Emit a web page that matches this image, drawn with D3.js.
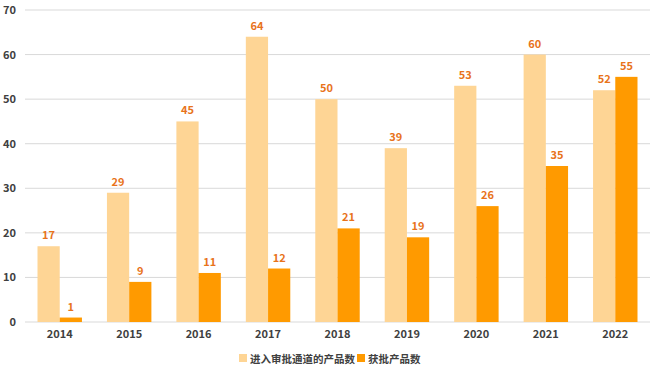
<!DOCTYPE html>
<html><head><meta charset="utf-8">
<script src="https://cdn.jsdelivr.net/npm/d3@7"></script>
<style>body{margin:0;background:#fff;}svg{display:block;font-family:"Noto Sans CJK SC","Noto Sans",sans-serif;}</style>
</head><body><svg id="c" width="660" height="374"></svg>
<script>
const years = ["2014","2015","2016","2017","2018","2019","2020","2021","2022"];
const entered = [17,29,45,64,50,39,53,60,52];
const approved = [1,9,11,12,21,19,26,35,55];
const seriesNames = ["进入审批通道的产品数","获批产品数"];
const yTicks = [0,10,20,30,40,50,60,70];
const colors = ["#FED595","#FF9A00"];

const svg = d3.select("#c");
const m = {l:25, r:10, t:10, b:52};
const W = 660, H = 374;
const x = d3.scaleBand().domain(years).range([m.l, W-m.r]).paddingInner(0.36).paddingOuter(0.18);
const x1 = d3.scaleBand().domain([0,1]).range([0, x.bandwidth()]);
const y = d3.scaleLinear().domain([0,70]).range([322,10]);

svg.append("g").selectAll("line").data(yTicks).join("line")
  .attr("x1", m.l).attr("x2", W-m.r).attr("y1", d=>y(d)).attr("y2", d=>y(d))
  .attr("stroke", "#d9d9d9").attr("stroke-width", 1);

svg.append("g").selectAll("text").data(yTicks).join("text")
  .attr("x", 16).attr("y", d=>y(d)+4).attr("text-anchor","end")
  .attr("font-size", 11).attr("font-weight","bold").attr("fill","#404040").text(d=>d);

const data = [entered, approved];
data.forEach((arr, si) => {
  const g = svg.append("g");
  g.selectAll("rect").data(arr).join("rect")
    .attr("x", (d,i)=>x(years[i]) + x1(si))
    .attr("width", x1.bandwidth())
    .attr("y", d=>y(d)).attr("height", d=>y(0)-y(d))
    .attr("fill", colors[si]);
  g.selectAll("text").data(arr).join("text")
    .attr("x", (d,i)=>x(years[i]) + x1(si) + x1.bandwidth()/2)
    .attr("y", d=>y(d)-7).attr("text-anchor","middle")
    .attr("font-size", 11).attr("font-weight","bold").attr("fill","#E8731B").text(d=>d);
});

svg.append("g").selectAll("text").data(years).join("text")
  .attr("x", d=>x(d)+x.bandwidth()/2).attr("y", 338).attr("text-anchor","middle")
  .attr("font-size", 11).attr("font-weight","bold").attr("fill","#404040").text(d=>d);

const leg = svg.append("g");
const legX = [239, 357];
seriesNames.forEach((n,i)=>{
  leg.append("rect").attr("x", legX[i]).attr("y", 354).attr("width", 8).attr("height", 8).attr("fill", colors[i]);
  leg.append("text").attr("x", legX[i]+11).attr("y", 363).attr("font-size", 10.5).attr("font-weight","bold").attr("fill","#404040").text(n);
});
</script></body></html>
